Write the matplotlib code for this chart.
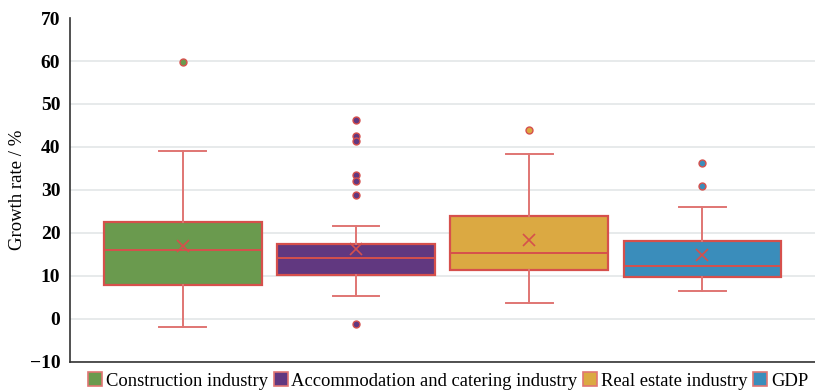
import numpy as np
import matplotlib.pyplot as plt
from matplotlib.patches import Patch

plt.rcParams['font.family'] = ['Liberation Serif', 'DejaVu Serif']

labels = ['Construction industry', 'Accommodation and catering industry',
          'Real estate industry', 'GDP']
whislo = [-1.8, 5.2, 3.8, 6.4]
q1 = [7.9, 10.1, 11.4, 9.8]
med = [16.1, 14.2, 15.4, 12.2]
q3 = [22.5, 17.5, 24.0, 18.2]
whishi = [39.1, 21.7, 38.3, 26.0]
means = [17.0, 16.2, 18.3, 14.9]
fliers = [[59.7],
          [46.3, 42.6, 41.4, 33.4, 32.0, 28.9, -1.2],
          [44.0],
          [36.2, 31.0]]
colors = ['#6a9a4e', '#613880', '#dba942', '#3a8dbb']
edge = '#d6504c'

stats = []
for i in range(len(labels)):
    stats.append(dict(label=labels[i], whislo=whislo[i], q1=q1[i], med=med[i],
                      q3=q3[i], whishi=whishi[i], mean=means[i],
                      fliers=np.array(fliers[i])))

fig = plt.figure(figsize=(8.15, 3.92), dpi=100)
ax = fig.add_axes([0.086, 0.077, 0.914, 0.877])

bp = ax.bxp(stats, positions=range(4), widths=0.91, patch_artist=True,
            showmeans=True, showfliers=True,
            boxprops=dict(edgecolor=edge, linewidth=1.6),
            medianprops=dict(color=edge, linewidth=1.4),
            whiskerprops=dict(color='#e07573', linewidth=1.4),
            capprops=dict(color='#e07573', linewidth=1.4),
            capwidths=0.27,
            meanprops=dict(marker='x', markeredgecolor=edge, markersize=9,
                           markeredgewidth=1.2),
            flierprops=dict(marker='o', markersize=5, markeredgecolor=edge,
                            markeredgewidth=1.0))
for box, c in zip(bp['boxes'], colors):
    box.set_facecolor(c)
for fl, c in zip(bp['fliers'], colors):
    fl.set_markerfacecolor(c)

ax.set_xlim(-0.65, 3.65)
ax.set_ylim(-10, 70)
ax.set_yticks(range(-10, 71, 10))
ax.set_yticklabels(['\u221210'] + [str(v) for v in range(0, 71, 10)])
ax.set_xticks([])
ax.tick_params(axis='y', length=0, labelsize=14, pad=7)
for t in ax.get_yticklabels():
    t.set_fontweight('bold')
ax.yaxis.grid(True, color='#e3e6e8', linewidth=1.2)
ax.get_ygridlines()[-1].set_visible(False)
ax.set_axisbelow(True)
for s in ['top', 'right']:
    ax.spines[s].set_visible(False)
for s in ['left', 'bottom']:
    ax.spines[s].set_color('#333333')
    ax.spines[s].set_linewidth(1.2)
ax.set_ylabel('Growth rate / %', fontsize=13.5, labelpad=3)

handles = [Patch(facecolor=c, edgecolor='#e07573', linewidth=1.2) for c in colors]
fig.legend(handles, labels, loc='center', bbox_to_anchor=(0.55, 0.028),
           ncol=4, frameon=False, fontsize=13.4, handlelength=0.75,
           handleheight=0.75, handletextpad=0.2, columnspacing=0.3)

fig.savefig('out.png', dpi=100)
